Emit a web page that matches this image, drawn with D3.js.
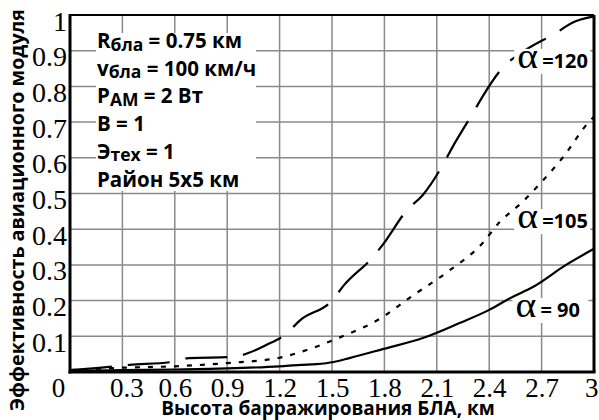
<!DOCTYPE html>
<html><head><meta charset="utf-8">
<script src="https://cdn.jsdelivr.net/npm/d3@7"></script>
<style>body{margin:0;background:#fff}svg{display:block}</style>
</head><body><svg id="c" width="599" height="420"></svg>
<script>
const xTicks = [0, 0.3, 0.6, 0.9, 1.2, 1.5, 1.8, 2.1, 2.4, 2.7, 3];
const xTickLabels = ["0","0.3","0.6","0.9","1.2","1.5","1.8","2.1","2.4","2.7","3"];
const yTicks = [0.1,0.2,0.3,0.4,0.5,0.6,0.7,0.8,0.9,1];
const yTickLabels = ["0.1","0.2","0.3","0.4","0.5","0.6","0.7","0.8","0.9","1"];

const x90 = [0, 0.3, 0.6, 0.9, 1.2, 1.32, 1.41, 1.51, 1.6, 1.79, 2.02, 2.23, 2.4, 2.52, 2.65, 2.84, 3.0];
const y90 = [0.003, 0.005, 0.007, 0.01, 0.016, 0.02, 0.022, 0.028, 0.039, 0.064, 0.095, 0.137, 0.174, 0.207, 0.238, 0.30, 0.345];
const x105 = [0, 0.3, 0.6, 0.9, 1.2, 1.32, 1.51, 1.79, 1.95, 2.16, 2.36, 2.46, 2.59, 2.71, 2.82, 2.97, 3.0];
const y105 = [0.005, 0.012, 0.016, 0.025, 0.04, 0.056, 0.09, 0.154, 0.21, 0.28, 0.36, 0.42, 0.476, 0.538, 0.60, 0.70, 0.715];
const x120 = [0, 0.15, 0.34, 0.58, 0.68, 0.93, 1.02, 1.12, 1.23, 1.32, 1.5, 1.57, 1.73, 1.79, 1.93, 2.02, 2.14, 2.19, 2.31, 2.36, 2.48, 2.59, 2.79, 2.87, 3.0];
const y120 = [0.005, 0.011, 0.02, 0.028, 0.039, 0.042, 0.053, 0.075, 0.104, 0.146, 0.20, 0.244, 0.32, 0.356, 0.454, 0.496, 0.585, 0.63, 0.728, 0.77, 0.854, 0.896, 0.952, 0.977, 0.996];

const seriesNames = ["120", "105", "90"];
const seriesLabelText = ["=120", "=105", "= 90"];
const seriesLabelX = [2.56, 2.56, 2.55];
const seriesLabelY = [0.852, 0.403, 0.154];

const infoLines = [
  [["R",""],["бла","sub"],[" = 0.75 км",""]],
  [["v",""],["бла","sub"],[" = 100 км/ч",""]],
  [["P",""],["AM","sub"],[" = 2 Вт",""]],
  [["B = 1",""]],
  [["Э",""],["тех","sub"],[" = 1",""]],
  [["Район 5х5 км",""]]
];
const yTitle = "Эффективность авиационного модуля";
const xTitle = "Высота барражирования БЛА, км";

const svg = d3.select("#c");
const L = 70, R = 594, T = 15, B = 372;
const x = d3.scaleLinear().domain([0, 3]).range([L, R]);
const y = d3.scaleLinear().domain([0, 1]).range([B, T]);

// grid
const g = svg.append("g");
g.selectAll(".vg").data(xTicks.slice(1, -1)).join("line")
  .attr("x1", d => x(d)).attr("x2", d => x(d)).attr("y1", T).attr("y2", B)
  .attr("stroke", "#8a8a8a").attr("stroke-width", 1.5);
g.selectAll(".hg").data(yTicks.slice(0, -1)).join("line")
  .attr("y1", d => y(d)).attr("y2", d => y(d)).attr("x1", L).attr("x2", R)
  .attr("stroke", "#8a8a8a").attr("stroke-width", 1.5);

// info box background
svg.append("rect").attr("x", 96).attr("y", 33).attr("width", 160).attr("height", 158).attr("fill", "#fff");

// curves
const sets = [[x120, y120, "42,16"], [x105, y105, "5,8"], [x90, y90, null]];
const line = d3.line().x(d => x(d[0])).y(d => y(d[1])).curve(d3.curveMonotoneX);
sets.forEach(([xs, ys, dash]) => {
  const p = svg.append("path").datum(xs.map((v, i) => [v, ys[i]]))
    .attr("d", line).attr("fill", "none").attr("stroke", "#000").attr("stroke-width", 2.2);
  if (dash) p.attr("stroke-dasharray", dash);
});

// frame
svg.append("line").attr("x1", L).attr("x2", R).attr("y1", T).attr("y2", T).attr("stroke", "#000").attr("stroke-width", 2);
svg.append("line").attr("x1", R).attr("x2", R).attr("y1", T).attr("y2", B).attr("stroke", "#000").attr("stroke-width", 3);
svg.append("line").attr("x1", L).attr("x2", L).attr("y1", T - 1).attr("y2", B + 1.5).attr("stroke", "#000").attr("stroke-width", 3);
svg.append("line").attr("x1", L - 1.5).attr("x2", R + 1.5).attr("y1", B).attr("y2", B).attr("stroke", "#000").attr("stroke-width", 3);

// axes labels via d3 axes
const serif = "'Liberation Serif', 'DejaVu Serif', serif";
const xAxis = svg.append("g").attr("transform", `translate(0,${B})`)
  .call(d3.axisBottom(x).tickValues(xTicks).tickFormat((d, i) => xTickLabels[i]).tickSize(0).tickPadding(0));
xAxis.select(".domain").remove();
xAxis.selectAll("text").attr("font-family", serif).attr("font-size", 27).attr("fill", "#000")
  .attr("dy", null).attr("y", 25)
  .attr("dx", (d, i) => i === 0 ? -12 : 0)
  .attr("text-anchor", (d, i) => i === xTicks.length - 1 ? "end" : "middle")
  .attr("x", (d, i) => i === xTicks.length - 1 ? 4 : (i === 1 ? 4 : 0));

const yAxis = svg.append("g").attr("transform", `translate(${L},0)`)
  .call(d3.axisLeft(y).tickValues(yTicks).tickFormat((d, i) => yTickLabels[i]).tickSize(0).tickPadding(3));
yAxis.select(".domain").remove();
yAxis.selectAll("text").attr("font-family", serif).attr("font-size", 28).attr("fill", "#000")
  .attr("dy", null).attr("y", 15);

// titles
const sans = "'Open Sans', 'Noto Sans', sans-serif";
const yt = svg.append("text").attr("transform", "translate(24,210) rotate(-90)")
  .attr("text-anchor", "middle").attr("font-family", sans).attr("font-weight", 700)
  .attr("font-size", 18).attr("fill", "#000").text(yTitle);
let len = yt.node().getComputedTextLength();
yt.attr("font-size", 18 * 402 / len);
const xt = svg.append("text").attr("x", 328).attr("y", 415)
  .attr("text-anchor", "middle").attr("font-family", sans).attr("font-weight", 700)
  .attr("font-size", 18).attr("fill", "#000").text(xTitle);
len = xt.node().getComputedTextLength();
xt.attr("font-size", 18 * 334 / len);

// info text
infoLines.forEach((parts, i) => {
  const t = svg.append("text").attr("x", 97).attr("y", 48 + i * 27.7)
    .attr("font-family", sans).attr("font-weight", 700).attr("font-size", 20.5).attr("fill", "#000");
  parts.forEach(([s, k], j) => {
    const ts = t.append("tspan").text(s);
    if (k === "sub") ts.attr("font-size", 17.5).attr("dy", 2.5);
    else if (j > 0) ts.attr("dy", -2.5);
  });
});

// series labels
seriesNames.forEach((n, i) => {
  const gx = x(seriesLabelX[i]), gy = y(seriesLabelY[i]);
  const lg = svg.append("g").attr("transform", `translate(${gx},${gy})`);
  lg.append("rect").attr("x", -3).attr("y", -19).attr("width", 76).attr("height", 25).attr("fill", "#fff");
  lg.append("text").attr("x", 0).attr("y", 0).attr("fill", "#000")
    .attr("font-family", serif).attr("font-size", 36).attr("transform", "scale(1.1,1)").text("α");
  lg.append("text").attr("x", 25).attr("y", 0).attr("fill", "#000")
    .attr("font-family", sans).attr("font-weight", 700).attr("font-size", 20).text(seriesLabelText[i]);
});
</script></body></html>
